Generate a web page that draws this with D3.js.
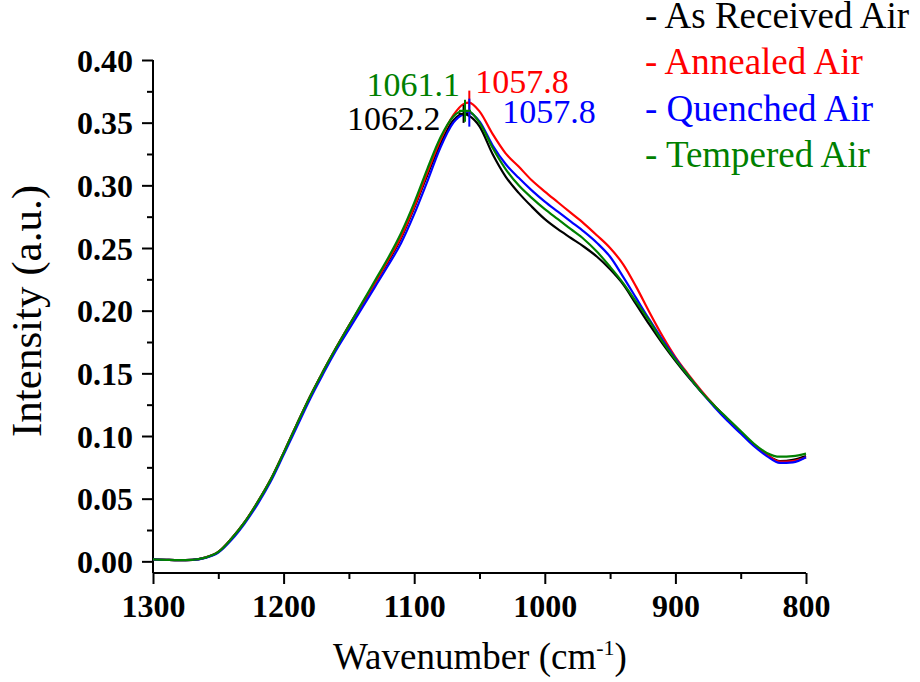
<!DOCTYPE html>
<html>
<head>
<meta charset="utf-8">
<script src="https://cdn.jsdelivr.net/npm/d3@7/dist/d3.min.js"></script>
<style>
  html, body { margin: 0; padding: 0; background: #fff; }
  svg { display: block; }
  text { font-family: "Liberation Serif", "Times New Roman", serif; }
</style>
</head>
<body>
<svg id="chart" width="920" height="682"></svg>
<script>
// FTIR absorbance spectra, wavenumber in cm^-1 (descending along the x axis)
const wavenumbers = [1300,1290,1280,1270,1260,1250,1240,1230,1220,1210,1200,1190,1180,1170,1160,1150,1140,1130,1120,1110,1100,1090,1080,1070,1062,1058,1050,1040,1030,1020,1010,1000,990,980,970,960,950,940,930,920,910,900,890,880,870,860,850,840,830,820,810,800];

const asReceived = [0.0015,0.0012,0.0010,0.0012,0.0030,0.0075,0.0180,0.0310,0.0470,0.0650,0.0865,0.1090,0.1310,0.1510,0.1700,0.1880,0.2050,0.2220,0.2390,0.2580,0.2820,0.3080,0.3330,0.3520,0.3570,0.3555,0.3470,0.3250,0.3070,0.2940,0.2830,0.2730,0.2650,0.2580,0.2510,0.2430,0.2330,0.2210,0.2050,0.1890,0.1740,0.1600,0.1470,0.1350,0.1240,0.1130,0.1030,0.0930,0.0850,0.0800,0.0810,0.0840];
const annealed   = [0.0015,0.0012,0.0010,0.0012,0.0030,0.0075,0.0180,0.0310,0.0470,0.0650,0.0865,0.1090,0.1310,0.1510,0.1700,0.1880,0.2050,0.2220,0.2400,0.2590,0.2830,0.3100,0.3360,0.3560,0.3650,0.3660,0.3590,0.3410,0.3255,0.3150,0.3040,0.2950,0.2865,0.2780,0.2695,0.2600,0.2500,0.2370,0.2190,0.1990,0.1800,0.1630,0.1490,0.1360,0.1240,0.1130,0.1030,0.0930,0.0850,0.0795,0.0800,0.0830];
const quenched   = [0.0015,0.0012,0.0010,0.0012,0.0028,0.0070,0.0170,0.0300,0.0455,0.0635,0.0850,0.1070,0.1290,0.1490,0.1680,0.1850,0.2020,0.2190,0.2360,0.2540,0.2770,0.3030,0.3300,0.3500,0.3570,0.3580,0.3510,0.3320,0.3170,0.3060,0.2960,0.2870,0.2790,0.2710,0.2630,0.2540,0.2430,0.2270,0.2100,0.1930,0.1770,0.1620,0.1480,0.1350,0.1230,0.1120,0.1020,0.0920,0.0840,0.0785,0.0790,0.0830];
const tempered   = [0.0015,0.0012,0.0010,0.0012,0.0030,0.0075,0.0180,0.0310,0.0470,0.0650,0.0865,0.1090,0.1310,0.1510,0.1700,0.1880,0.2060,0.2240,0.2420,0.2620,0.2860,0.3130,0.3380,0.3550,0.3595,0.3590,0.3500,0.3300,0.3130,0.3000,0.2900,0.2810,0.2730,0.2650,0.2570,0.2470,0.2350,0.2220,0.2070,0.1920,0.1755,0.1610,0.1480,0.1350,0.1240,0.1140,0.1040,0.0940,0.0865,0.0835,0.0840,0.0860];

const seriesNames  = ["As Received Air", "Annealed Air", "Quenched Air", "Tempered Air"];
const seriesValues = [asReceived, annealed, quenched, tempered];
const seriesColors = ["#000000", "#ff0000", "#0000ff", "#008000"];

// Peak positions reported on the chart
const peakPositions = [1062.2, 1057.8, 1057.8, 1061.1];
const peakValues    = [0.3570, 0.3660, 0.3580, 0.3595];
const peakLabels    = ["1062.2", "1057.8", "1057.8", "1061.1"];

const xTicks = [1300, 1200, 1100, 1000, 900, 800];
const yTicks = [0.00, 0.05, 0.10, 0.15, 0.20, 0.25, 0.30, 0.35, 0.40];

const svg = d3.select("#chart");

const plot = { left: 153, right: 806, top: 60, bottom: 573 };

const x = d3.scaleLinear().domain([1300, 800]).range([plot.left, plot.right]);
// zero sits a little above the bottom axis line
const y = d3.scaleLinear().domain([-0.0093, 0.40]).range([plot.bottom, plot.top]);

// ---- axes ----
const xAxis = d3.axisBottom(x).tickValues(xTicks).tickSize(11).tickFormat(d3.format("d"));
const xMinor = d3.axisBottom(x).tickValues(d3.range(1250, 800, -100)).tickSize(6).tickFormat("");
const yAxis = d3.axisLeft(y).tickValues(yTicks).tickSize(11).tickPadding(9).tickFormat(d3.format(".2f"));
const yMinor = d3.axisLeft(y).tickValues(d3.range(0.025, 0.40, 0.05)).tickSize(6).tickFormat("");

function styleAxis(g) {
  g.select(".domain").attr("stroke", "#000").attr("stroke-width", 2);
  g.selectAll(".tick line").attr("stroke", "#000").attr("stroke-width", 2);
  g.selectAll(".tick text")
    .attr("fill", "#000")
    .style("font-family", "'Liberation Serif', 'Times New Roman', serif")
    .style("font-size", "32px")
    .style("font-weight", "bold");
}

svg.append("g").attr("transform", `translate(0,${plot.bottom})`).call(xMinor).call(styleAxis)
  .select(".domain").remove();
svg.append("g").attr("transform", `translate(0,${plot.bottom})`).call(xAxis).call(styleAxis)
  .call(g => g.select(".domain").attr("d", `M${plot.left},0H${plot.right}`))
  .selectAll(".tick text").attr("y", 44).attr("dy", 0);

svg.append("g").attr("transform", `translate(${plot.left},0)`).call(yMinor).call(styleAxis)
  .select(".domain").remove();
svg.append("g").attr("transform", `translate(${plot.left},0)`).call(yAxis).call(styleAxis)
  .call(g => g.select(".domain").attr("d", `M0,${plot.top}V${plot.bottom}`))
  .selectAll(".tick text").attr("dy", "0.35em");

// ---- spectra ----
const line = d3.line()
  .x((d, i) => x(wavenumbers[i]))
  .y(d => y(d))
  .curve(d3.curveMonotoneX);

seriesValues.forEach((vals, k) => {
  svg.append("path")
    .datum(vals)
    .attr("fill", "none")
    .attr("stroke", seriesColors[k])
    .attr("stroke-width", 2.2)
    .attr("stroke-linejoin", "round")
    .attr("d", line);
});

// ---- peak markers ----
const markerHalf = [9, 12, 14, 11];
const markerBar  = [5, 0, 0, 6];
peakPositions.forEach((p, k) => {
  const px = x(p), py = y(peakValues[k]);
  const g = svg.append("g").attr("stroke", seriesColors[k]).attr("stroke-width", 2);
  g.append("line").attr("x1", px).attr("x2", px).attr("y1", py - markerHalf[k]).attr("y2", py + markerHalf[k]);
  if (markerBar[k] > 0) {
    g.append("line").attr("x1", px - markerBar[k]).attr("x2", px + markerBar[k]).attr("y1", py).attr("y2", py);
  }
});

// ---- peak labels ----
// black: left of peak, below; red: right, above; blue: right, below; green: left, above
const labelAnchor = ["end", "start", "start", "end"];
const labelDx = [-23, 6, 33, -5];
const labelDy = [16, -10, 10, -15];
peakPositions.forEach((p, k) => {
  svg.append("text")
    .attr("x", x(p) + labelDx[k])
    .attr("y", y(peakValues[k]) + labelDy[k])
    .attr("text-anchor", labelAnchor[k])
    .attr("fill", seriesColors[k])
    .style("font-size", "34px")
    .text(peakLabels[k]);
});

// ---- legend ----
const legend = svg.append("g").attr("transform", "translate(645,0)");
seriesNames.forEach((name, k) => {
  legend.append("text")
    .attr("x", 0)
    .attr("y", 28 + k * 46.3)
    .attr("fill", seriesColors[k])
    .style("font-size", "37px")
    .text("- " + name);
});

// ---- axis titles ----
const xt = svg.append("text")
  .attr("x", 480)
  .attr("y", 669)
  .attr("text-anchor", "middle")
  .attr("fill", "#000")
  .style("font-size", "37px");
xt.append("tspan").text("Wavenumber (cm");
xt.append("tspan").attr("dy", "-14").style("font-size", "22px").text("-1");
xt.append("tspan").attr("dy", "14").text(")");

svg.append("text")
  .attr("transform", `translate(41,311) rotate(-90)`)
  .attr("text-anchor", "middle")
  .attr("fill", "#000")
  .style("font-size", "43px")
  .text("Intensity (a.u.)");
</script>
</body>
</html>
